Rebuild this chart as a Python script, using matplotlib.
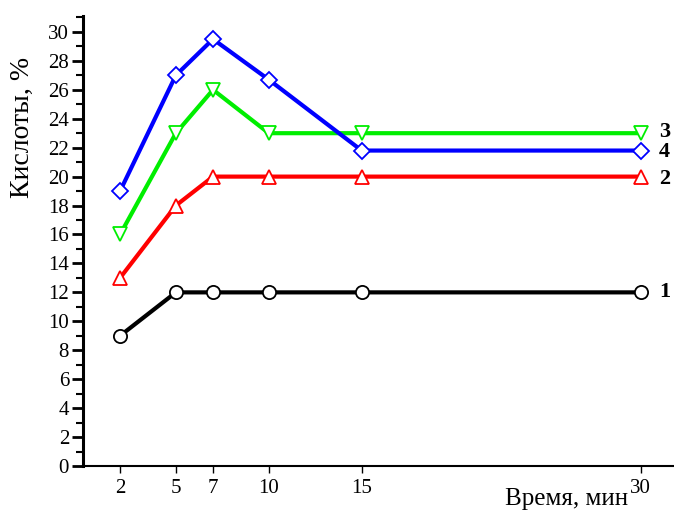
import matplotlib
matplotlib.use("Agg")
import matplotlib.pyplot as plt
from matplotlib.ticker import MultipleLocator

time_min = [2, 5, 7, 10, 15, 30]
curve1 = [9, 12, 12, 12, 12, 12]
curve2 = [13, 18, 20, 20, 20, 20]
curve3 = [16, 23, 26, 23, 23, 23]
curve4 = [19, 27, 29.5, 26.7, 21.8, 21.8]
curve_labels = ["1", "2", "3", "4"]
label_y = [12, 19.8, 23.1, 21.7]
y_ticks = list(range(0, 31, 2))

plt.rcParams['font.family'] = ['Liberation Serif', 'DejaVu Serif']

fig = plt.figure(figsize=(6.74, 5.12), dpi=100)
ax = fig.add_axes([0.123, 0.0898, 0.877, 0.879])

series = [
    (curve1, 'black', 'o'),
    (curve2, 'red', '^'),
    (curve3, '#00ee00', 'v'),
    (curve4, 'blue', 'D'),
]
for vals, col, mk in series:
    ms = 8 if mk == 'D' else 9.5
    ax.plot(time_min, vals, color=col, lw=3, marker=mk, ms=ms,
            mfc='white', mec=col, mew=1.3, zorder=3)

for lab, yy in zip(curve_labels, label_y):
    ax.text(31.0, yy, lab, fontsize=16, fontweight='bold', va='center', ha='left')

ax.set_xlim(0, 31.8)
ax.set_ylim(0, 31.1)
ax.set_yticks(y_ticks)
ax.yaxis.set_minor_locator(MultipleLocator(1))
ax.set_xticks(time_min)
ax.set_xticklabels([str(t) for t in time_min])

for s in ['top', 'right']:
    ax.spines[s].set_visible(False)
ax.spines['left'].set_linewidth(2.2)
ax.spines['bottom'].set_linewidth(1.5)

ax.tick_params(axis='y', which='major', length=8, width=2, labelsize=15, pad=2)
ax.tick_params(axis='y', which='minor', length=5, width=1.5)
ax.tick_params(axis='x', which='major', length=5, width=1, labelsize=15, pad=4)

fig.text(0.033, 0.752, 'Кислоты, %', rotation=90, fontsize=20, ha='center', va='center')
fig.text(0.84, 0.025, 'Время, мин', fontsize=18, ha='center', va='center')

fig.savefig('out.png', dpi=100)
